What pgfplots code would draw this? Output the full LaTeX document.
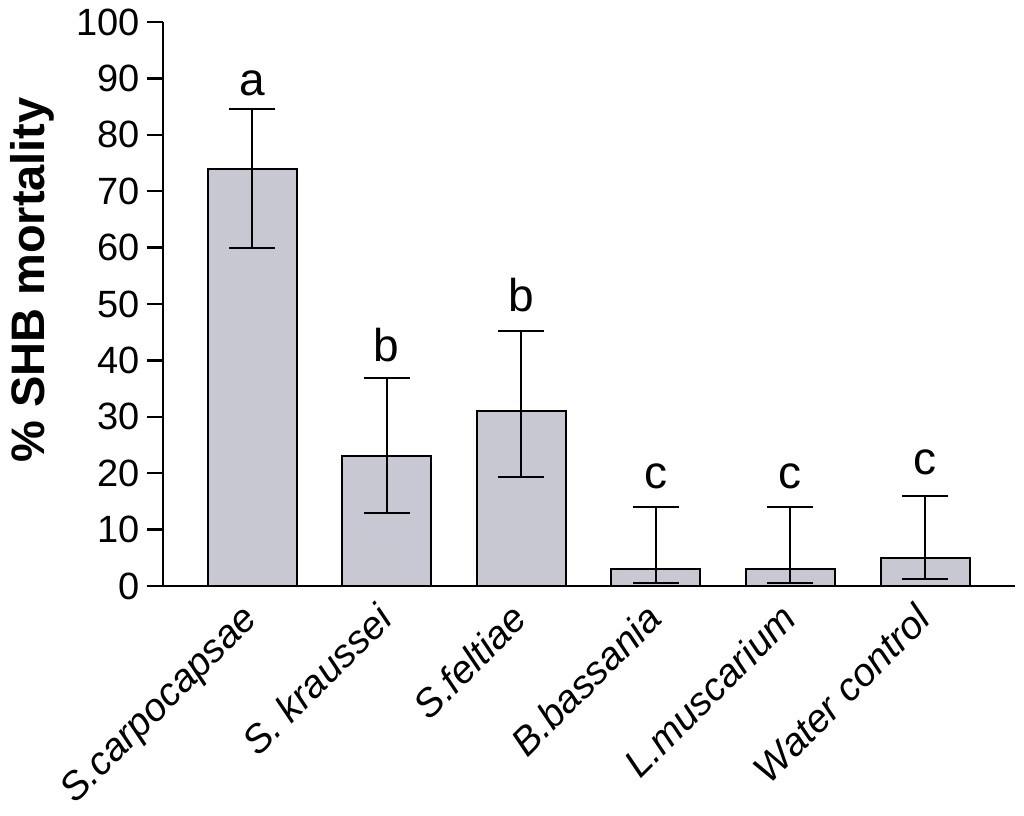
\documentclass[border=0pt]{standalone}
\usepackage{pgfplots}
\pgfplotsset{compat=1.18}
\usepackage{fontspec}
\setmainfont{Liberation Sans}
\definecolor{barfill}{RGB}{200,200,210}
\begin{document}
\begin{tikzpicture}
\begin{axis}[
  name=ax,
  scale only axis,
  width=426pt, height=282pt,
  xmin=-0.662, xmax=5.668,
  ymin=0, ymax=100,
  axis x line*=bottom, axis y line*=left,
  axis line style={line width=1.2pt},
  ytick={0,10,...,100},
  xtick={0,...,5},
  xticklabels={S.carpocapsae, S. kraussei, S.feltiae, B.bassania, L.muscarium, Water control},
  xtick style={draw=none},
  ytick style={line width=1.2pt, black},
  tick align=outside,
  major tick length=8pt,
  /pgf/number format/assume math mode=true,
  yticklabel style={font=\fontsize{19}{21}\selectfont},
  xticklabel style={font=\fontsize{19.5}{22}\selectfont\itshape, xshift=-6pt, yshift=0.5pt, rotate=45, anchor=north east, inner sep=0pt},
  ylabel={\% SHB mortality},
  ylabel style={font=\fontsize{23.5}{26}\selectfont\bfseries, at={(rel axis cs:-0.1538,0.5426)}, anchor=center},
  clip=false,
]
\addplot[ybar, bar width=44.5pt, fill=barfill, draw=black, line width=1pt,
  error bars/.cd, y dir=both, y explicit,
  error bar style={line width=1pt, black},
  error mark options={rotate=90, mark size=11.5pt, line width=1pt, black}]
  table[x=x, y=y, y error plus=ep, y error minus=em] {
x y ep em
0 74 10.5 14
1 23 13.8 10
2 31 14.2 11.6
3 3 11 2.5
4 3 11 2.5
5 5 11 3.8
};
\addplot[draw=none, mark=none, nodes near coords, point meta=explicit symbolic,
  nodes near coords style={anchor=base, font=\fontsize{23}{25}\selectfont, inner sep=0pt}]
  table[x=x, y=y, meta=lab] {
x y lab
0 87.0 a
1 39.8 b
2 48.6 b
3 17.2 c
4 17.2 c
5 19.7 c
};
\end{axis}
\pgfresetboundingbox
\path ([xshift=-81.5pt,yshift=-114.5pt]ax.south west) rectangle ([xshift=4.5pt,yshift=11pt]ax.north east);
\end{tikzpicture}
\end{document}
